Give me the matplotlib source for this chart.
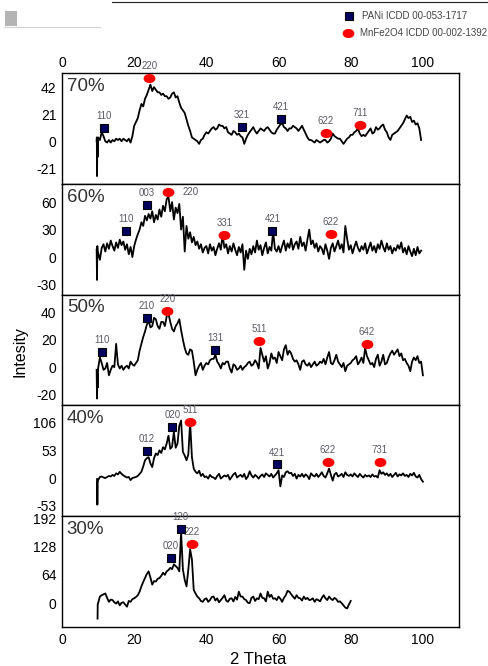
import numpy as np
import matplotlib
matplotlib.use("Agg")
import matplotlib.pyplot as plt
import matplotlib.path as mpath
from matplotlib.patches import Rectangle
from matplotlib.lines import Line2D

plt.rcParams["font.family"] = ["Liberation Sans", "DejaVu Sans"]
plt.rcParams["axes.unicode_minus"] = False

W, H = 489, 666

# intensity, 0.5 deg steps starting at 10 deg
# (lead_* = the short drop right at the start of each scan)
lead_x70 = [9.6, 9.65, 9.7, 9.8, 9.9]
lead_y70 = [0, 3, -27, 2, -12]
y70 = [
    3, 1, 7, 4, 0, -1, 1, -1, 1, 0,
    2, 1, 2, 0, 2, 1, 0, 2, -1, 4,
    12, 15, 18, 24, 29, 27, 33, 36, 40, 44,
    39, 42, 40, 38, 38, 36, 37, 35, 35, 33,
    34, 37, 38, 34, 35, 30, 26, 24, 22, 17,
    12, 8, 3, 2, 1, 0, -2, 1, 2, 5,
    7, 6, 8, 10, 11, 9, 10, 13, 12, 12,
    10, 11, 7, 6, 5, 8, 7, 5, 6, 4,
    3, -2, 2, 5, 7, 9, 11, 8, 6, 8,
    10, 9, 8, 10, 11, 9, 7, 6, 6, 9,
    11, 13, 14, 11, 10, 8, 10, 10, 12, 11,
    10, 8, 10, 12, 9, 6, 3, 1, 1, 0,
    -1, 1, 0, -1, 0, 1, 1, -1, 0, 2,
    6, 4, 3, 2, 2, 0, -2, 0, 2, 3,
    5, 5, 7, 8, 10, 6, 4, 5, 4, 6,
    8, 10, 6, 7, 11, 9, 10, 12, 13, 9,
    7, 3, 1, 5, 6, 7, 8, 10, 12, 14,
    17, 20, 18, 19, 15, 16, 13, 14, 10, 1,
]

lead_x60 = [9.6, 9.7, 9.8, 9.9]
lead_y60 = [8, -25, 12, 0]
y60 = [
    5, -3, 10, 14, 6, 15, 9, 18, 12, 7,
    16, 10, 19, 13, 17, 8, 14, 3, 11, 0,
    12, 19, 25, 30, 38, 34, 45, 40, 47, 42,
    50, 38, 46, 41, 52, 44, 56, 50, 63, 66,
    50, 60, 41, 54, 48, 58, 30, 44, 6, 34,
    20, 27, 16, 22, 13, 17, 9, 14, 5, 10,
    12, 4, 14, 7, 11, 2, 9, 15, 8, 24,
    10, 14, 4, 12, 6, 15, 8, 2, 11, 5,
    14, -14, 7, -2, 9, 3, 12, 5, 18, 8,
    13, 2, 10, 16, 4, 11, 7, 28, 9, 6,
    12, 5, 12, 18, 7, 15, 10, 20, 8, 14,
    17, 9, 22, 12, 16, 7, 19, 30, 14, 18,
    10, 15, 6, 12, 9, 3, 14, 7, -2, 10,
    15, 6, 12, 18, 9, 14, 5, 34, 20, 8,
    13, 4, 11, 17, 10, 6, 12, 8, 15, 4,
    10, 16, 7, 12, 5, 14, 9, 18, 11, 6,
    15, 8, 12, 4, 10, 7, 13, 9, 16, 5,
    10, 3, 12, 6, 1, 9, 2, 11, 4, 7,
]

lead_x50 = [9.6, 9.7, 9.8, 9.9]
lead_y50 = [-2, -23, -5, -15]
y50 = [
    -1, 7, 3, -2, -1, 3, -6, -2, 1, 0,
    17, 2, -1, 1, -2, 0, 1, -1, 4, 2,
    1, 3, 5, 12, 17, 22, 26, 31, 34, 29,
    30, 36, 35, 30, 28, 33, 33, 30, 37, 39,
    33, 28, 26, 30, 32, 35, 27, 20, 14, 10,
    9, 13, 12, 4, -6, -2, 1, 3, -2, 1,
    3, 2, 5, 6, 6, 9, 4, 2, -1, 3,
    2, 4, 4, -1, -4, 2, 1, -2, -1, 1,
    -2, 0, 1, 3, 4, 1, 2, 5, 3, -1,
    14, 9, 4, 8, -1, 3, 10, 6, 7, 3,
    11, 8, 5, 13, 16, 9, 12, 10, 6, 4,
    5, 2, -2, 4, 5, 2, 1, 3, 0, 2,
    4, 1, 2, 4, 3, 6, 2, 7, 11, 3,
    2, 5, 9, 4, 2, 0, 3, -3, 1, 2,
    3, 5, 6, 8, 2, 4, 7, 3, 14, 8,
    5, 2, 3, 0, 6, 9, 1, 4, 9, 2,
    3, 7, 10, 12, 9, 11, 13, 8, 10, 5,
    6, 3, 1, -3, 4, 7, 5, 8, 3, 4,
    -6,
]

lead_x40 = [9.7, 9.8, 9.9]
lead_y40 = [-2, -51, -8]
y40 = [
    -4, 2, 3, 1, 0, 2, 4, 3, 6, 4,
    9, 7, 12, 8, 5, 3, 1, 2, -4, 0,
    1, 2, 4, 8, 12, 22, 34, 38, 40, 28,
    21, 38, 47, 44, 53, 48, 59, 55, 66, 81,
    56, 60, 88, 58, 66, 100, 110, 50, 43, 34,
    45, 107, 40, 18, 12, 9, 14, 4, 8, 2,
    3, -1, 6, 2, 1, -2, 4, 8, -1, 2,
    5, 3, 6, -3, 2, 7, 10, 1, 4, 6,
    2, 8, -2, 3, 13, 5, 1, 6, 3, -1,
    4, 7, 2, 9, 6, 3, 8, 1, 5, 9,
    15, -16, 5, 2, 11, 13, 9, 10, 4, 8,
    -1, 6, 3, 8, 2, 7, 4, -2, 9, 5,
    3, 8, 2, 6, 11, 4, 1, 9, 18, 6,
    -5, 7, 10, 3, 5, 8, 2, 11, 6, 4,
    7, 3, 9, 5, 2, 8, 4, 1, 6, 3,
    5, 2, 7, 3, 4, 1, 15, 8, 11, 6,
    9, 4, 8, 2, 6, 10, 3, 7, 5, 9,
    4, 6, 2, 8, 5, 10, 3, 1, 6, -2,
    -7,
]

lead_x30 = [9.85, 9.9]
lead_y30 = [-35, -2]
y30 = [
    0, 15, 18, 20, 22, 12, 3, 8, 7, 2,
    -1, 4, -5, 1, 2, -3, -8, 5, 3, 9,
    11, 14, 18, 26, 38, 48, 57, 66, 72, 58,
    42, 50, 49, 55, 57, 62, 69, 64, 72, 75,
    80, 77, 88, 84, 80, 72, 161, 76, 53, 38,
    76, 122, 99, 30, 22, 15, 11, 5, 3, 9,
    11, 3, 7, 14, 15, 6, 11, 2, 7, 12,
    18, 6, 3, 10, 11, 4, 14, 8, 26, 15,
    15, 9, 7, 1, 0, 12, 15, 5, 11, 9,
    22, 12, 11, 4, 26, 14, 19, 10, 11, 7,
    15, 10, 3, 12, 18, 28, 26, 20, 15, 10,
    18, 12, 11, 6, 15, 9, 12, 7, 8, 11,
    3, 9, 7, 4, 12, 18, 11, 7, 15, 10,
    7, 12, 9, 3, 4, 0, -5, -10, -12, -3,
    5,
]

# indexed reflections: (hkl, 2theta, height, phase)
peaks70 = [("110", 11.6, 10, "pani"), ("220", 24.2, 49, "mnfe"), ("321", 49.8, 11, "pani"),
           ("421", 60.6, 17, "pani"), ("622", 73.1, 6.6, "mnfe"), ("711", 82.5, 13, "mnfe")]
peaks60 = [("110", 17.6, 29, "pani"), ("003", 23.5, 57, "pani"), ("220", 29.5, 71, "mnfe"),
           ("331", 45.0, 24, "mnfe"), ("421", 58.3, 28, "pani"), ("622", 74.4, 25.6, "mnfe")]
peaks50 = [("110", 11.0, 11, "pani"), ("210", 23.5, 36, "pani"), ("220", 29.2, 41, "mnfe"),
           ("131", 42.4, 12.8, "pani"), ("511", 54.7, 19, "mnfe"), ("642", 84.4, 17, "mnfe")]
peaks40 = [("012", 23.5, 51, "pani"), ("020", 30.6, 98, "pani"), ("511", 35.5, 108, "mnfe"),
           ("421", 59.6, 26, "pani"), ("622", 73.6, 31, "mnfe"), ("731", 88.1, 30, "mnfe")]
peaks30 = [("020", 30.2, 103, "pani"), ("120", 32.9, 167, "pani"), ("222", 35.9, 134, "mnfe")]

samples = ["70%", "60%", "50%", "40%", "30%"]
yticks70 = [-21, 0, 21, 42]
yticks60 = [-30, 0, 30, 60]
yticks50 = [-20, 0, 20, 40]
yticks40 = [-53, 0, 53, 106]
yticks30 = [0, 64, 128, 192]
xticks = [0, 20, 40, 60, 80, 100]

legend_labels = ["PANi ICDD 00-053-1717", "MnFe2O4 ICDD 00-002-1392"]

NAVY = "#00005e"
RED = "#ff0000"
LABEL_GREY = "#5a5a66"

circle = mpath.Path.unit_circle()
ELLIPSE = mpath.Path(circle.vertices * [1.35, 1.0], circle.codes)


def grid(n):
    return 10 + 0.5 * np.arange(n)


def draw_marker(ax, x, y, phase, **kw):
    if phase == "pani":
        ax.plot(x, y, marker="s", ms=6, mfc=NAVY, mec="black", mew=0.8, ls="none", **kw)
    else:
        ax.plot(x, y, marker=ELLIPSE, ms=7.5, mfc=RED, mec=RED, ls="none", **kw)


def main():
    fig = plt.figure(figsize=(W / 100, H / 100), dpi=100)

    panels = [
        (lead_x70, lead_y70, y70, (-33, 53), yticks70, peaks70),
        (lead_x60, lead_y60, y60, (-41, 80), yticks60, peaks60),
        (lead_x50, lead_y50, y50, (-28, 53), yticks50, peaks50),
        (lead_x40, lead_y40, y40, (-73, 139), yticks40, peaks40),
        (lead_x30, lead_y30, y30, (-54, 197), yticks30, peaks30),
    ]

    left, right = 62 / W, 459 / W
    top_px, bot_px = 73, 627
    h = (bot_px - top_px) / 5

    for i, (lx, ly, yy, ylim, yt, peaks) in enumerate(panels):
        y0 = 1 - (top_px + (i + 1) * h) / H
        ax = fig.add_axes([left, y0, right - left, h / H])
        x = np.concatenate([lx, grid(len(yy))])
        y = np.concatenate([ly, yy])
        ax.plot(x, y, color="black", lw=1.3)
        ax.set_xlim(0, 110)
        ax.set_ylim(*ylim)
        ax.set_yticks(yt)
        ax.set_xticks(xticks)
        ax.tick_params(length=0, labelsize=10, pad=4)
        for sp in ax.spines.values():
            sp.set_linewidth(1.0)
        if i == 0:
            ax.xaxis.tick_top()
            ax.tick_params(axis="x", pad=2)
        elif i < 4:
            ax.set_xticklabels([])
        ax.text(0.012, 0.88, samples[i], transform=ax.transAxes, fontsize=13.5,
                color="#333333", va="center", ha="left")

        for hkl, px, py, phase in peaks:
            draw_marker(ax, px, py, phase, clip_on=False, zorder=5)
            if i == 1 and hkl == "220":
                off, ha, va = (10, 0), "left", "center"
            else:
                off, ha, va = (0, 5), "center", "bottom"
            ax.annotate(hkl, (px, py), xytext=off, textcoords="offset points",
                        ha=ha, va=va, fontsize=7, color=LABEL_GREY,
                        annotation_clip=False)

    fig.text(20 / W, 1 - 352 / H, "Intesity", rotation=90, ha="center", va="center",
             fontsize=11.5)
    fig.text(258 / W, 1 - 659 / H, "2 Theta", ha="center", va="center", fontsize=12)

    # legend in the upper right corner, as pasted in the source figure
    leg = fig.add_axes([0, 0, 1, 1], facecolor="none")
    leg.set_xlim(0, W)
    leg.set_ylim(H, 0)
    leg.axis("off")
    draw_marker(leg, 349, 16, "pani")
    draw_marker(leg, 348, 33, "mnfe")
    leg.text(362, 16, legend_labels[0], fontsize=7, color="#444444", va="center")
    leg.text(360, 33, legend_labels[1], fontsize=7, color="#444444", va="center")

    # cropped remnants at the top edge of the original figure
    leg.add_line(Line2D([112, 489], [2, 2], color="#222222", lw=0.8))
    leg.add_patch(Rectangle((5, 11), 12, 15, color="#b4b4b4", lw=0))
    leg.add_line(Line2D([5, 100], [26.5, 26.5], color="#d0d0d0", lw=0.8))

    fig.savefig("out.png", dpi=100)
    plt.close(fig)


if __name__ == "__main__":
    main()
